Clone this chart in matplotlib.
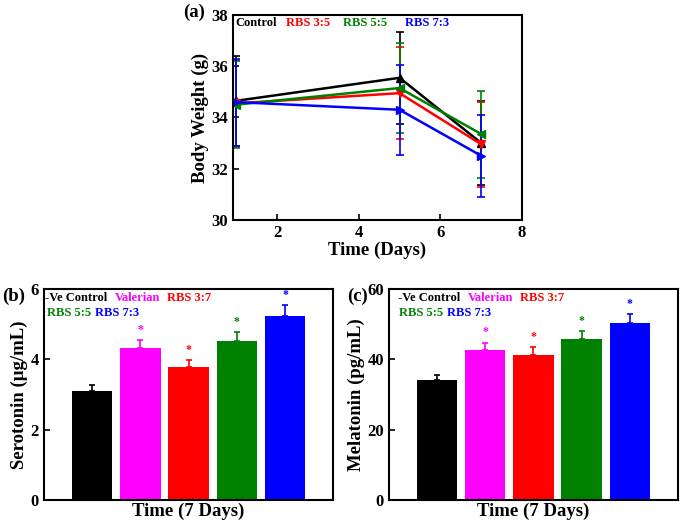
import numpy as np
import matplotlib
matplotlib.use('Agg')
import matplotlib.pyplot as plt

plt.rcParams['font.family'] = ['Liberation Serif', 'DejaVu Serif']
plt.rcParams['font.weight'] = 'bold'
plt.rcParams['axes.labelweight'] = 'bold'

# (a) body weight
days = [1, 5, 7]
bw_names = ['Control', 'RBS 3:5', 'RBS 5:5', 'RBS 7:3']
bw_colors = ['black', 'red', 'green', 'blue']
bw_markers = ['^', 'v', '<', '>']
bw_mean = [[34.65, 35.55, 33.0],
           [34.55, 34.95, 32.95],
           [34.5, 35.15, 33.35],
           [34.6, 34.3, 32.5]]
bw_err = [[1.75, 1.8, 1.65],
          [1.7, 1.8, 1.65],
          [1.7, 1.75, 1.7],
          [1.7, 1.75, 1.6]]

# (b), (c) bars
groups = ['-Ve Control', 'Valerian', 'RBS 3:7', 'RBS 5:5', 'RBS 7:3']
bar_colors = ['black', 'magenta', 'red', 'green', 'blue']
serotonin = [3.1, 4.34, 3.8, 4.52, 5.25]
serotonin_err = [0.17, 0.22, 0.19, 0.25, 0.29]
melatonin = [34.1, 42.6, 41.4, 45.8, 50.3]
melatonin_err = [1.6, 2.2, 2.1, 2.3, 2.5]
stars = [False, True, True, True, True]

fig = plt.figure(figsize=(6.87, 5.22), dpi=100)

def style(ax):
    for s in ax.spines.values():
        s.set_linewidth(1.5)
    ax.tick_params(direction='in', width=1.2, length=4, labelsize=12,
                   top=False, right=False)
    for lab in ax.get_xticklabels() + ax.get_yticklabels():
        lab.set_fontweight('bold')

ax1 = fig.add_axes([0.339, 0.579, 0.421, 0.392])
for i in range(4):
    ax1.errorbar(days, bw_mean[i], yerr=bw_err[i], color=bw_colors[i],
                 marker=bw_markers[i], markersize=6, linewidth=1.8,
                 elinewidth=1.2, capsize=3, capthick=1.2)
ax1.set_xlim(0.92, 8)
ax1.set_ylim(30, 38)
ax1.set_xticks([2, 4, 6, 8])
ax1.set_yticks([30, 32, 34, 36, 38])
ax1.set_xlabel('Time (Days)', fontsize=13.5, labelpad=1)
ax1.set_ylabel('Body Weight (g)', fontsize=13.5, labelpad=2)
style(ax1)
lx = [0.01, 0.185, 0.38, 0.595]
for i in range(4):
    ax1.text(lx[i], 0.96, bw_names[i], color=bw_colors[i], fontsize=9,
             fontweight='bold', transform=ax1.transAxes, va='center')
fig.text(183 / 687, 1 - 12 / 522, '(a)', fontsize=13.5, fontweight='bold',
         va='center')


def bar_panel(rect, vals, errs, ylim, yticks, ylabel, label, lpos, pos1, pos2):
    ax = fig.add_axes(rect)
    x = np.arange(1, len(vals) + 1)
    ax.bar(x, vals, width=0.84, color=bar_colors)
    for i in range(len(vals)):
        ax.errorbar(x[i], vals[i], yerr=[[0], [errs[i]]], color=bar_colors[i],
                    elinewidth=1.2, capsize=2.5, capthick=1.2, fmt='none')
        if stars[i]:
            ax.text(x[i], vals[i] + errs[i] + ylim[1] * 0.02, '*',
                    color=bar_colors[i], ha='center', va='bottom', fontsize=8.5)
    ax.set_xlim(0, 6)
    ax.set_ylim(*ylim)
    ax.set_xticks([])
    ax.set_yticks(yticks)
    ax.set_xlabel('Time (7 Days)', fontsize=13.5, labelpad=2)
    ax.set_ylabel(ylabel, fontsize=13.5, labelpad=2)
    style(ax)
    for i in range(3):
        ax.text(pos1[i], 0.957, groups[i], color=bar_colors[i], fontsize=9,
                fontweight='bold', transform=ax.transAxes, va='center')
    for i in range(2):
        ax.text(pos2[i], 0.886, groups[3 + i], color=bar_colors[3 + i],
                fontsize=9, fontweight='bold', transform=ax.transAxes,
                va='center')
    fig.text(lpos / 687, 1 - 296 / 522, label, fontsize=13.5,
             fontweight='bold', va='center')
    return ax

bar_panel([0.064, 0.042, 0.421, 0.404], serotonin, serotonin_err, (0, 6),
          [0, 2, 4, 6], 'Serotonin (\u03bcg/mL)', '(b)', 2,
          [0.005, 0.246, 0.425], [0.01, 0.176])
bar_panel([0.566, 0.042, 0.421, 0.404], melatonin, melatonin_err, (0, 60),
          [0, 20, 40, 60], 'Melatonin (pg/mL)', '(c)', 347,
          [0.031, 0.273, 0.453], [0.035, 0.2])

fig.savefig('out.png', dpi=100)
